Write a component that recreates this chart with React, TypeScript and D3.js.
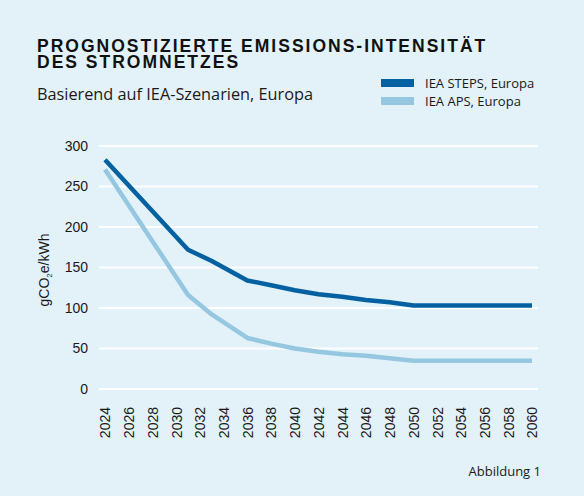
import React, { useEffect, useRef } from 'react';
import * as d3 from 'd3';

// years with a visible reading, values in gCO2e/kWh
const stepsYears = [2024, 2031, 2033, 2036, 2038, 2040, 2042, 2044, 2046, 2048, 2050, 2060];
const stepsValues = [283, 172, 158, 134, 128, 122, 117, 114, 110, 107, 103, 103];
const apsYears = [2024, 2031, 2032, 2033, 2036, 2038, 2040, 2042, 2044, 2046, 2048, 2050, 2060];
const apsValues = [271, 116, 104, 92, 63, 56, 50, 46, 43, 41, 38, 35, 35];

const xTicks = d3.range(2024, 2061, 2);
const yTicks = [0, 50, 100, 150, 200, 250, 300];
const seriesNames = ['IEA STEPS, Europa', 'IEA APS, Europa'];
const seriesColors = ['#0461a1', '#96c7e1'];
const titleLines = ['PROGNOSTIZIERTE EMISSIONS-INTENSITÄT', 'DES STROMNETZES'];

const W = 584;
const H = 496;

const App = () => {
  const svgRef = useRef(null);

  useEffect(() => {
    const svg = d3.select(svgRef.current);
    svg.selectAll('*').remove();

    const x = d3.scaleLinear().domain([2024, 2060]).range([105, 532]);
    const y = d3.scaleLinear().domain([0, 300]).range([389, 146]);
    const gridLeft = 99;
    const gridRight = 538;

    svg.append('rect').attr('width', W).attr('height', H).attr('fill', '#e3f1f9');

    // gridlines
    svg.append('g')
      .selectAll('line')
      .data(yTicks)
      .enter().append('line')
        .attr('x1', gridLeft)
        .attr('x2', gridRight)
        .attr('y1', d => y(d))
        .attr('y2', d => y(d))
        .attr('stroke', '#ffffff')
        .attr('stroke-width', 2);

    const yAxis = g => g
      .attr('transform', `translate(88,0)`)
      .call(d3.axisLeft(y).tickValues(yTicks).tickSize(0).tickPadding(0))
      .call(g => g.select('.domain').remove())
      .attr('font-family', 'Liberation Sans, Arial, sans-serif')
      .attr('font-size', '14px')
      .call(g => g.selectAll('text').attr('fill', '#1a1a1a'));

    const xAxis = g => g
      .attr('transform', `translate(0,407)`)
      .call(d3.axisBottom(x).tickValues(xTicks).tickFormat(d3.format('d')).tickSize(0).tickPadding(0))
      .call(g => g.select('.domain').remove())
      .attr('font-family', 'Liberation Sans, Arial, sans-serif')
      .attr('font-size', '14px')
      .call(g => g.selectAll('text')
        .attr('fill', '#1a1a1a')
        .attr('transform', 'rotate(-90)')
        .attr('text-anchor', 'end')
        .attr('x', 0)
        .attr('y', 0)
        .attr('dy', '0.35em'));

    svg.append('g').call(yAxis);
    svg.append('g').call(xAxis);

    const line = d3.line().x(d => x(d[0])).y(d => y(d[1]));
    const series = [
      d3.zip(stepsYears, stepsValues),
      d3.zip(apsYears, apsValues),
    ];
    // light series first so the dark one sits on top
    [1, 0].forEach(i => {
      svg.append('path')
        .datum(series[i])
        .attr('d', line)
        .attr('fill', 'none')
        .attr('stroke', seriesColors[i])
        .attr('stroke-width', 4.5)
        .attr('stroke-linejoin', 'round');
    });

    // y axis title
    const yTitle = svg.append('text')
      .attr('transform', 'translate(49,270) rotate(-90)')
      .attr('text-anchor', 'middle')
      .attr('font-family', 'Liberation Sans, Arial, sans-serif')
      .attr('font-size', '14px')
      .attr('fill', '#1a1a1a');
    yTitle.append('tspan').text('gCO');
    yTitle.append('tspan').attr('font-size', '8px').attr('dy', 3).text('2');
    yTitle.append('tspan').attr('dy', -3).text('e/kWh');

    // title: size the font so line 1 spans the same width as in the reference
    const title = svg.append('g')
      .attr('font-family', 'Liberation Sans, Arial, sans-serif')
      .attr('font-weight', 700)
      .attr('fill', '#111111');
    const titleText = title.selectAll('text')
      .data(titleLines)
      .enter().append('text')
        .attr('x', 37)
        .attr('y', (d, i) => 52 + i * 16)
        .attr('font-size', '16px')
        .text(d => d);
    const spacing = 2;
    const natural = titleText.node().getComputedTextLength();
    const fit = 16 * (452 - spacing * titleLines[0].length) / natural;
    titleText.attr('font-size', `${Math.min(fit, 17.5)}px`).attr('letter-spacing', spacing);

    svg.append('text')
      .attr('x', 37).attr('y', 100)
      .attr('font-family', 'Open Sans, sans-serif')
      .attr('font-size', '16.3px')
      .attr('fill', '#1a1a1a')
      .text('Basierend auf IEA-Szenarien, Europa');

    // legend
    const legend = svg.append('g')
      .selectAll('g')
      .data(seriesNames)
      .enter().append('g')
        .attr('transform', (d, i) => `translate(381,${83 + i * 18})`);
    legend.append('rect')
      .attr('x', 0).attr('y', -4)
      .attr('width', 33).attr('height', 8)
      .attr('fill', (d, i) => seriesColors[i]);
    legend.append('text')
      .attr('x', 44).attr('y', 0).attr('dy', '0.35em')
      .attr('font-family', 'Open Sans, sans-serif')
      .attr('font-size', '13px')
      .attr('fill', '#1a1a1a')
      .text(d => d);

    svg.append('text')
      .attr('x', 541).attr('y', 476)
      .attr('text-anchor', 'end')
      .attr('font-family', 'Open Sans, sans-serif')
      .attr('font-size', '13px')
      .attr('fill', '#1a1a1a')
      .text('Abbildung 1');
  }, []);

  return (
    <svg
      ref={svgRef}
      width={W}
      height={H}
      style={{ position: 'absolute', left: 0, top: 0, display: 'block' }}
    ></svg>
  );
};

export default App;
